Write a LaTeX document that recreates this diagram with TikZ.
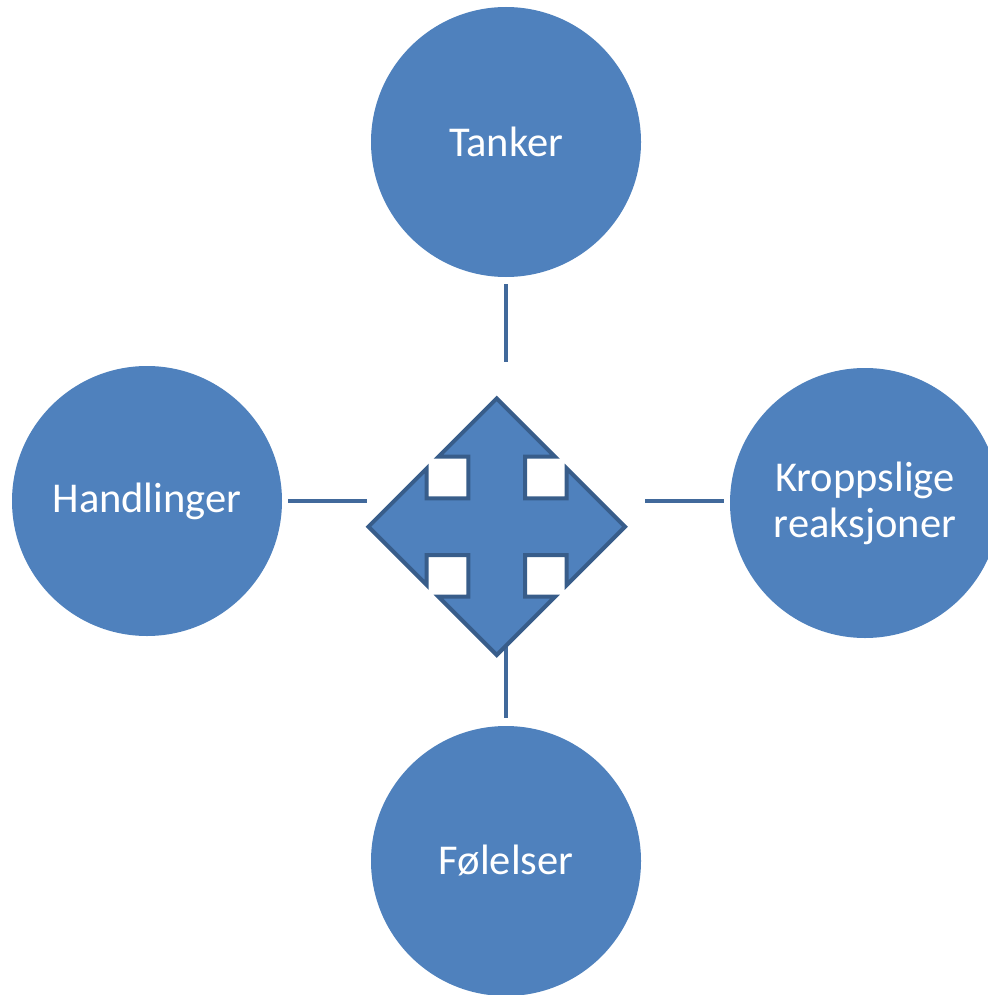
\documentclass[tikz,border=0pt]{standalone}
\usepackage{fontspec}
\setmainfont{Carlito}
\definecolor{fillblue}{HTML}{4F81BD}
\definecolor{edgeblue}{HTML}{385D8A}
\definecolor{lineblue}{HTML}{41699B}
\begin{document}
\begin{tikzpicture}[x=1pt,y=-1pt,
  topic/.style={circle,fill=fillblue,draw=none,minimum size=270pt,inner sep=0pt,
    text=white,font=\fontsize{42.5}{46}\selectfont,align=center},
  link/.style={draw=lineblue,line width=4pt},
  quad/.style={fill=fillblue,draw=edgeblue,line width=4pt,line join=miter}]
\useasboundingbox (0,0) rectangle (987,995);
\node[topic] (tanker) at (506,142) {Tanker};
\node[topic] (handl) at (147,501) {Handlinger};
\node[topic] (kropp) at (865,503) {Kroppslige\\reaksjoner};
\node[topic] (fol) at (506,861) {Følelser};
% connectors
\coordinate (t1) at (506,284); \coordinate (t2) at (506,362);
\coordinate (l1) at (288,501); \coordinate (l2) at (367,501);
\coordinate (r1) at (645,501); \coordinate (r2) at (724,501);
\coordinate (b1) at (506,640); \coordinate (b2) at (506,718);
\draw[link] (t1) -- (t2);
\draw[link] (l1) -- (l2);
\draw[link] (r1) -- (r2);
\draw[link] (b1) -- (b2);
% four-way arrow
\coordinate (c) at (496.7,526.7);
\def\qa{128.3}\def\qb{70}\def\qh{58.3}\def\qs{28.3}
\draw[quad] ([shift={(0,-\qa)}]c) -- ++(\qh,\qa-\qb) -- ++(\qs-\qh,0) -- ++(0,\qb-\qs)
  -- ++(\qb-\qs,0) -- ++(0,\qs-\qh) -- ++(\qa-\qb,\qh) -- ++(\qb-\qa,\qh) -- ++(0,\qs-\qh)
  -- ++(\qs-\qb,0) -- ++(0,\qb-\qs) -- ++(\qh-\qs,0) -- ++(-\qh,\qa-\qb)
  -- ++(-\qh,\qb-\qa) -- ++(\qh-\qs,0) -- ++(0,\qs-\qb) -- ++(\qs-\qb,0) -- ++(0,\qh-\qs)
  -- ++(\qb-\qa,-\qh) -- ++(\qa-\qb,-\qh) -- ++(0,\qh-\qs) -- ++(\qb-\qs,0) -- ++(0,\qs-\qb)
  -- ++(\qs-\qh,0) -- cycle;
\end{tikzpicture}
\end{document}
